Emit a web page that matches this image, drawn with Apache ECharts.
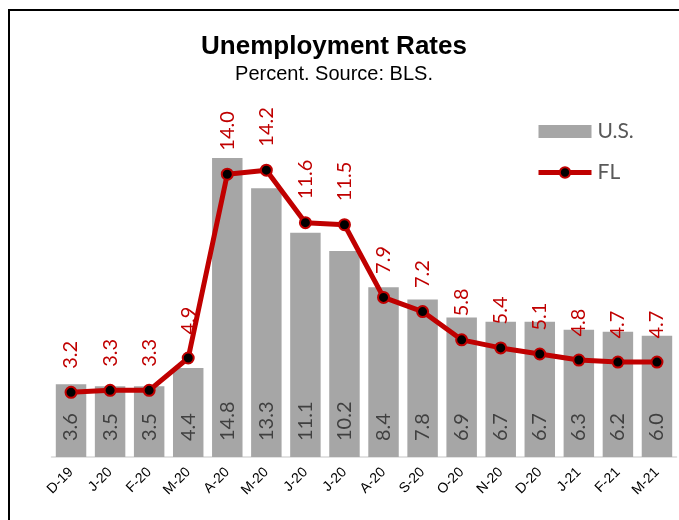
<!DOCTYPE html>
<html>
<head>
<meta charset="utf-8">
<script src="https://cdn.jsdelivr.net/npm/echarts@6/dist/echarts.min.js"></script>
<style>
  html, body { margin: 0; padding: 0; background: #fff; }
  #chart { width: 679px; height: 520px; }
</style>
</head>
<body>
<div id="chart"></div>
<script>
// data
const months = ['D-19', 'J-20', 'F-20', 'M-20', 'A-20', 'M-20', 'J-20', 'J-20', 'A-20', 'S-20', 'O-20', 'N-20', 'D-20', 'J-21', 'F-21', 'M-21']
const usRates = [3.6, 3.5, 3.5, 4.4, 14.8, 13.3, 11.1, 10.2, 8.4, 7.8, 6.9, 6.7, 6.7, 6.3, 6.2, 6.0]
const flRates = [3.2, 3.3, 3.3, 4.9, 14.0, 14.2, 11.6, 11.5, 7.9, 7.2, 5.8, 5.4, 5.1, 4.8, 4.7, 4.7]

const chart = echarts.init(document.getElementById('chart'))

const option = {
  animation: false,
  backgroundColor: '#fff',
  title: {
    text: 'Unemployment Rates',
    subtext: 'Percent. Source: BLS.',
    left: 329,
    textAlign: 'center',
    top: 29,
    itemGap: 4,
    textStyle: {
      fontFamily: 'Liberation Sans',
      fontWeight: 'bold',
      fontSize: 26,
      color: '#000'
    },
    subtextStyle: {
      fontFamily: 'Liberation Sans',
      fontSize: 20,
      color: '#000'
    }
  },
  legend: {
    orient: 'vertical',
    left: 531,
    top: 116,
    itemWidth: 53,
    itemHeight: 13,
    itemGap: 20,
    textStyle: {
      fontFamily: 'Lato',
      fontSize: 21,
      color: '#595959',
      padding: [0, 0, 0, 1]
    },
    data: [
      {name: 'U.S.', icon: 'rect'},
      {name: 'FL', lineStyle: {width: 5, color: '#C00000'}}
    ]
  },
  graphic: [
    {
      type: 'rect',
      shape: {x: 9, y: 10, width: 700, height: 600},
      style: {fill: 'none', stroke: '#000', lineWidth: 2},
      silent: true
    }
  ],
  grid: {
    left: 51.5,
    right: 2.5,
    top: 53,
    bottom: 63
  },
  xAxis: {
    type: 'category',
    data: months,
    axisLine: {lineStyle: {color: '#D9D9D9', width: 1.5}},
    axisTick: {show: false},
    axisLabel: {
      rotate: 45,
      margin: 13,
      interval: 0,
      fontFamily: 'Liberation Sans',
      fontSize: 14,
      color: '#000'
    }
  },
  yAxis: {
    type: 'value',
    min: 0,
    max: 20,
    show: false,
    splitLine: {show: false}
  },
  series: [
    {
      name: 'U.S.',
      type: 'bar',
      data: usRates,
      barCategoryGap: '22%',
      itemStyle: {color: '#A6A6A6'},
      label: {
        show: true,
        position: 'insideBottom',
        rotate: 90,
        align: 'left',
        verticalAlign: 'middle',
        distance: 16,
        fontFamily: 'Lato',
        fontSize: 20,
        color: '#404040',
        formatter: p => p.value.toFixed(1)
      }
    },
    {
      name: 'FL',
      type: 'line',
      data: flRates,
      symbol: 'circle',
      symbolSize: 11,
      lineStyle: {color: '#C00000', width: 5},
      itemStyle: {color: '#000', borderColor: '#C00000', borderWidth: 2},
      label: {
        show: true,
        position: 'top',
        rotate: 90,
        align: 'left',
        verticalAlign: 'middle',
        distance: 17,
        fontFamily: 'Lato',
        fontSize: 20,
        color: '#C00000',
        formatter: p => p.value.toFixed(1)
      },
      z: 5
    }
  ]
}

chart.setOption(option)
</script>
</body>
</html>
